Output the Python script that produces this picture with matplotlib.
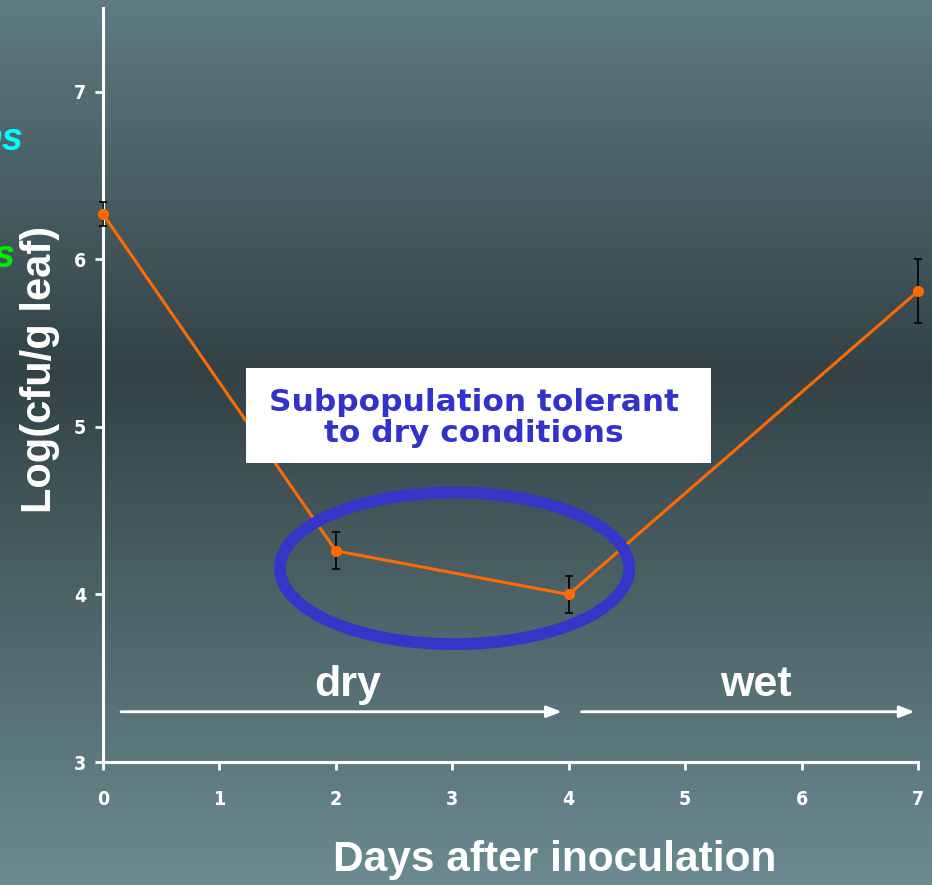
import numpy as np
import matplotlib
matplotlib.use("Agg")
import matplotlib.pyplot as plt
from matplotlib.patches import Ellipse
from matplotlib.colors import LinearSegmentedColormap

days = [0, 2, 4, 7]
log_cfu = [6.27, 4.26, 4.0, 5.81]
err = [0.07, 0.11, 0.11, 0.19]
xticks = [0, 1, 2, 3, 4, 5, 6, 7]
yticks = [3, 4, 5, 6, 7]

W, H = 932, 885
fig = plt.figure(figsize=(W / 100, H / 100), dpi=100)

# background gradient
bg = fig.add_axes([0, 0, 1, 1])
cmap = LinearSegmentedColormap.from_list(
    "bg", [(0.0, "#5f7b81"), (0.42, "#324247"), (1.0, "#6b8b91")])
grad = np.linspace(0, 1, 256).reshape(-1, 1)
bg.imshow(grad, aspect="auto", cmap=cmap, extent=[0, 1, 0, 1], origin="upper")
bg.set_axis_off()

bold = ["Liberation Sans", "DejaVu Sans"]

ax = fig.add_axes([103 / W, (H - 762) / H, (918 - 103) / W, (762 - 8) / H])
ax.set_facecolor("none")
ax.set_xlim(0, 7)
ax.set_ylim(3, 7.5)
for s in ["top", "right"]:
    ax.spines[s].set_visible(False)
for s in ["left", "bottom"]:
    ax.spines[s].set_color("white")
    ax.spines[s].set_linewidth(2.2)
ax.set_xticks(xticks)
ax.set_yticks(yticks)
ax.tick_params(colors="white", length=6, width=2)
ax.tick_params(axis="x", pad=14)
ax.tick_params(axis="y", pad=6)
for lab in ax.get_xticklabels() + ax.get_yticklabels():
    lab.set_family("DejaVu Sans")
    lab.set_fontstretch("condensed")
    lab.set_fontweight("bold")
    lab.set_fontsize(14)
    lab.set_color("white")

ax.errorbar(days, log_cfu, yerr=err, fmt="none", ecolor="black",
            elinewidth=1.2, capsize=2.6, capthick=1.2, zorder=3, clip_on=False)
ax.plot(days, log_cfu, color="#ff6a00", lw=2.2, marker="o", ms=7,
        mfc="#ff6a00", mec="#ff6a00", zorder=4, clip_on=False)

fig.text(40 / W, 1 - 369 / H, "Log(cfu/g leaf)", color="white", fontsize=30,
         fontweight="bold", family=bold, rotation=90, ha="center", va="center")
fig.text(555 / W, 1 - 860 / H, "Days after inoculation", color="white",
         fontsize=30.5, fontweight="bold", family=bold, ha="center", va="center")

# ellipse
ell = Ellipse((3.02, 4.156), 3.0, 0.905, fill=False, ec="#3535c8", lw=8.5, zorder=5)
ax.add_patch(ell)

# text box
box = plt.Rectangle((246 / W, 1 - 463 / H), (711 - 246) / W, (463 - 368) / H,
                    transform=fig.transFigure, fc="white", ec="none", zorder=1)
fig.add_artist(box)
t = fig.text(474 / W, 1 - 418 / H, "Subpopulation tolerant\nto dry conditions",
             color="#3333cc", fontsize=22.5, fontweight="bold",
             family=["DejaVu Sans"], ha="center", va="center", linespacing=1.1)
t.set_zorder(2)

# arrows
for x0, x1 in [(0.155, 3.94), (4.11, 6.97)]:
    ax.annotate("", xy=(x1, 3.30), xytext=(x0, 3.30),
                arrowprops=dict(arrowstyle="-|>,head_length=0.9,head_width=0.35",
                                color="white", lw=2, shrinkA=0, shrinkB=0))
ax.text(2.1, 3.46, "dry", color="white", fontsize=31, fontweight="bold",
        family=bold, ha="center", va="center")
ax.text(5.61, 3.46, "wet", color="white", fontsize=31, fontweight="bold",
        family=bold, ha="center", va="center")

# cut-off legend text on the left edge
fig.text(23 / W, 1 - 140 / H, "ns", color="#00ffff", fontsize=27,
         fontweight="bold", style="italic", family=bold, ha="right", va="center")
fig.text(14 / W, 1 - 257 / H, "s", color="#00ee00", fontsize=27,
         fontweight="bold", style="italic", family=bold, ha="right", va="center")

fig.savefig("out.png", dpi=100)
